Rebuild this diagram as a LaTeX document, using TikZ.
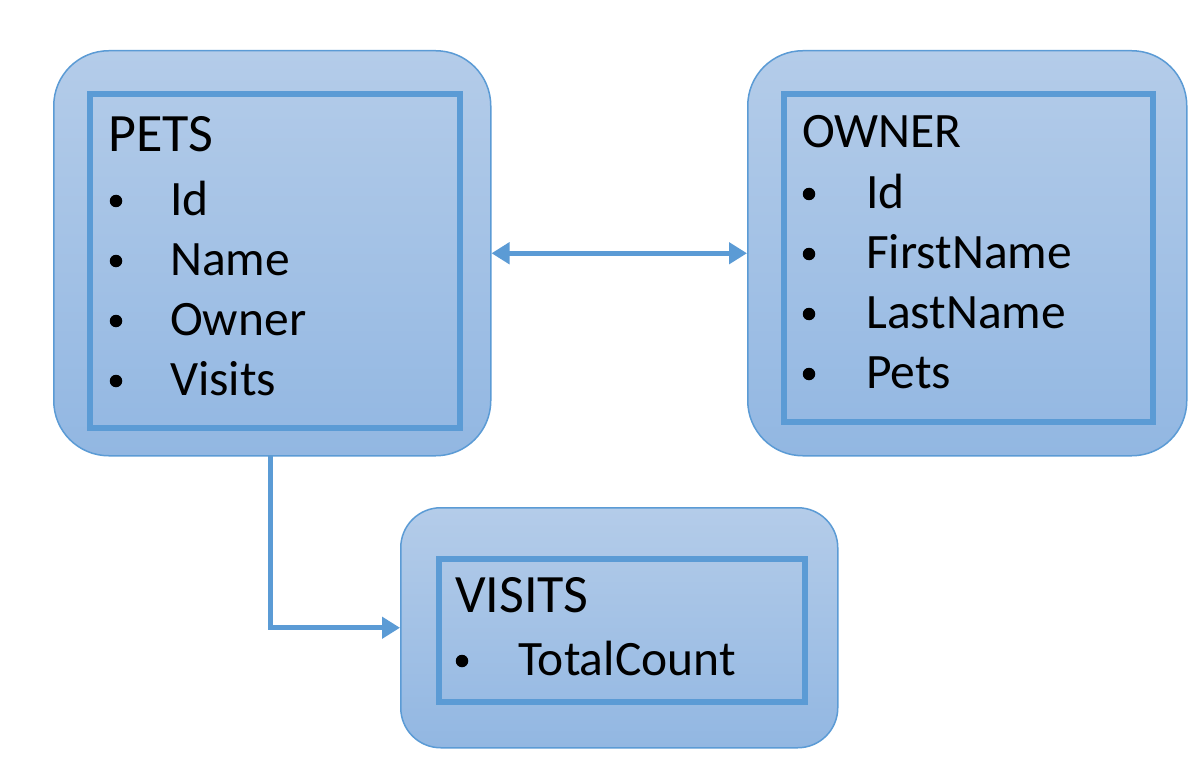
\documentclass[tikz,border=0pt]{standalone}
\usepackage{fontspec}
\setmainfont{Carlito}
\usetikzlibrary{arrows.meta}
\definecolor{accent}{HTML}{5B9BD5}
\definecolor{boxtop}{HTML}{B4CCE9}
\definecolor{boxbot}{HTML}{92B7E2}
\tikzset{
  outerbox/.style={draw=accent, line width=1.5pt, rounded corners=#1, top color=boxtop, bottom color=boxbot, anchor=north west, inner sep=0pt},
  innerbox/.style={draw=accent, line width=6pt, anchor=north west, inner sep=0pt},
  titletext/.style={anchor=base west, inner sep=0pt, font=\fontsize{#1}{60}\selectfont},
  itemtext/.style={anchor=base west, inner sep=0pt, font=\fontsize{49.5}{60}\selectfont},
  bulletdot/.style={circle, fill=black, inner sep=0pt, minimum size=12.5pt},
  conn/.style={draw=accent, line width=5pt, arrows={-Triangle[length=18pt,width=21pt]}},
}
\begin{document}
\begin{tikzpicture}[x=1pt,y=-1pt]
\useasboundingbox (0,0) rectangle (1196,770);
\fill[white] (0,0) rectangle (1196,770);

% PETS
\node[outerbox=55pt, minimum width=437pt, minimum height=405pt] (pets) at (53,50) {};
\node[innerbox, minimum width=370pt, minimum height=334pt] (petsin) at (87,91) {};
\node[titletext=54] (petst) at (108,152) {PETS};
\foreach \y/\t [count=\i] in {215/Id,275/Name,335/Owner,395/Visits}{
  \node[bulletdot] (pb\i) at (116,\y-14) {};
  \node[itemtext] (pi\i) at (170,\y) {\t};
}

% OWNER
\node[outerbox=55pt, minimum width=439pt, minimum height=405pt] (owner) at (747,50) {};
\node[innerbox, minimum width=369pt, minimum height=328pt] (ownerin) at (781,91) {};
\node[titletext=49.5] (ownert) at (802,148) {OWNER};
\foreach \y/\t [count=\i] in {208/Id,268/FirstName,328/LastName,388/Pets}{
  \node[bulletdot] (ob\i) at (809,\y-14) {};
  \node[itemtext] (oi\i) at (866,\y) {\t};
}

% VISITS
\node[outerbox=40pt, minimum width=437pt, minimum height=240pt] (visits) at (400,507) {};
\node[innerbox, minimum width=366pt, minimum height=143pt] (visitsin) at (436,556) {};
\node[titletext=54] (visitst) at (455,612) {VISITS};
\node[bulletdot] (vb1) at (462,661) {};
\node[itemtext] (vi1) at (518,675) {TotalCount};

% connectors
\draw[conn, arrows={Triangle[length=18pt,width=21pt]-Triangle[length=18pt,width=21pt]}] (pets.east) -- (owner.west);
\coordinate (elbowstart) at (270,455);
\draw[conn] (elbowstart) |- (visits.west);
\end{tikzpicture}
\end{document}
